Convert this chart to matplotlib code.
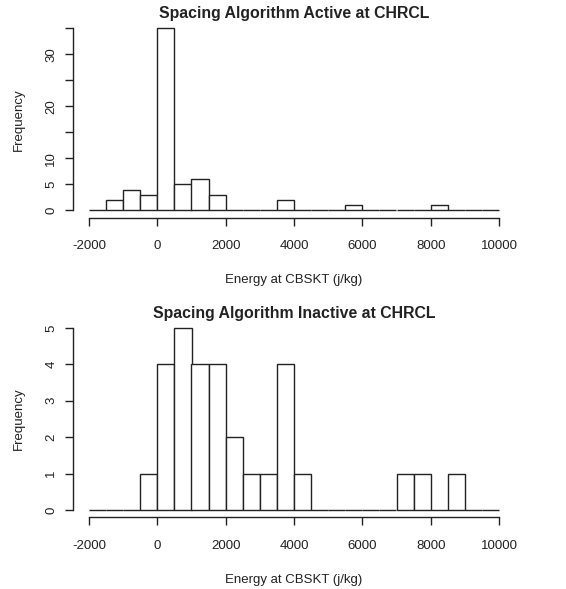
import matplotlib
matplotlib.use("Agg")
import matplotlib.pyplot as plt
import numpy as np

plt.rcParams['font.family'] = ['Liberation Sans', 'DejaVu Sans']

bin_edges = list(range(-2000, 10001, 500))
active_counts = [0, 2, 4, 3, 35, 5, 6, 3, 0, 0, 0, 2, 0, 0, 0, 1, 0, 0, 0, 0, 1, 0, 0, 0]
inactive_counts = [0, 0, 0, 1, 4, 5, 4, 4, 2, 1, 1, 4, 1, 0, 0, 0, 0, 0, 1, 1, 0, 1, 0, 0]

titles = ["Spacing Algorithm Active at CHRCL", "Spacing Algorithm Inactive at CHRCL"]
xlabel = "Energy at CBSKT (j/kg)"
ylabel = "Frequency"
xticks = [-2000, 0, 2000, 4000, 6000, 8000, 10000]
yticks_top = [0, 5, 10, 15, 20, 25, 30, 35]
ylabels_top = ["0", "5", "10", "", "20", "", "30", ""]
yticks_bot = [0, 1, 2, 3, 4, 5]

W, H = 566, 589
fig = plt.figure(figsize=(W / 100, H / 100), dpi=100)

def make_ax(top_px, bottom_px):
    left_px, right_px = 72.6, 515.4
    return fig.add_axes([left_px / W, (H - bottom_px) / H,
                         (right_px - left_px) / W, (bottom_px - top_px) / H])

ax1 = make_ax(21.0, 217.6)
ax2 = make_ax(320.7, 517.3)

lc = '#222222'
for ax, counts, title, yt, ytl in [
    (ax1, active_counts, titles[0], yticks_top, ylabels_top),
    (ax2, inactive_counts, titles[1], yticks_bot, [str(v) for v in yticks_bot]),
]:
    edges = np.array(bin_edges)
    widths = np.diff(edges)
    ax.bar(edges[:-1], counts, width=widths, align='edge', facecolor='white',
           edgecolor=lc, linewidth=1.0)
    ymax = max(yt)
    ax.set_xlim(-2000 - 0.04 * 12000, 10000 + 0.04 * 12000)
    ax.set_ylim(-0.04 * ymax, ymax * 1.04)
    for s in ['top', 'right']:
        ax.spines[s].set_visible(False)
    ax.spines['left'].set_bounds(0, ymax)
    ax.spines['bottom'].set_bounds(-2000, 10000)
    for s in ['left', 'bottom']:
        ax.spines[s].set_color(lc)
        ax.spines[s].set_linewidth(1.0)
    ax.set_xticks(xticks)
    ax.set_xticklabels([str(v) for v in xticks])
    ax.set_yticks(yt)
    ax.set_yticklabels(ytl, rotation=90, va='center')
    ax.tick_params(axis='both', direction='out', length=6, width=1.0, color=lc,
                   labelsize=9.5, labelcolor='#222222')
    ax.tick_params(axis='x', pad=10)
    ax.tick_params(axis='y', pad=5)
    ax.set_title(title, fontsize=11.4, fontweight='bold', color='#222222', pad=1.5)
    ax.set_xlabel(xlabel, fontsize=9.5, color='#222222', labelpad=16)
    ax.set_ylabel(ylabel, fontsize=9.5, color='#222222', labelpad=15)

fig.savefig("out.png", dpi=100)
